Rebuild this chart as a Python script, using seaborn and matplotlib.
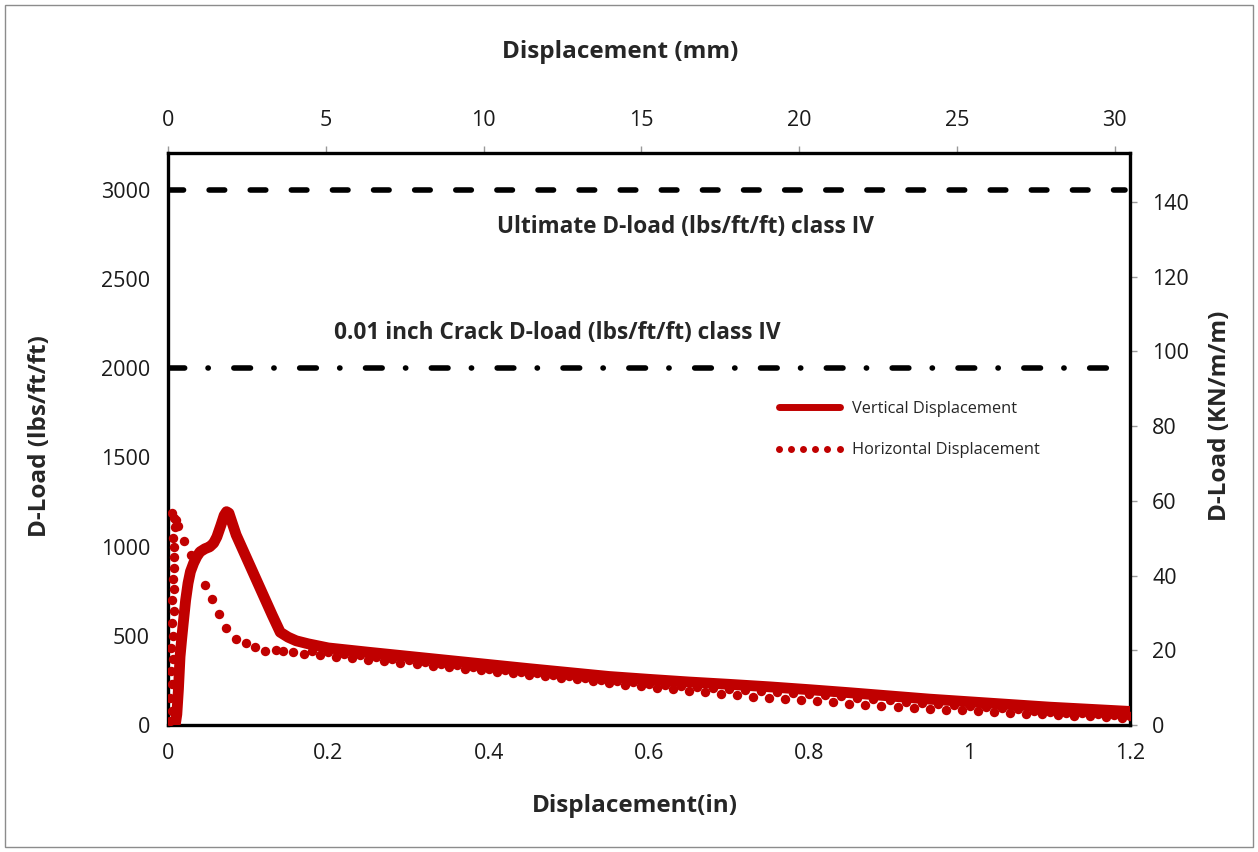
import matplotlib
matplotlib.use("Agg")
import matplotlib.pyplot as plt
from matplotlib.lines import Line2D
from matplotlib.patches import Rectangle
import seaborn as sns
import pandas as pd

# Vertical displacement test record (in, lbs/ft/ft)
vert_x = [0.009, 0.011, 0.013, 0.015, 0.017, 0.019, 0.022, 0.025, 0.028, 0.032,
          0.036, 0.040, 0.046, 0.052, 0.057, 0.061, 0.066, 0.070, 0.073, 0.076,
          0.085, 0.100, 0.115, 0.130, 0.140, 0.150, 0.160, 0.175, 0.200, 0.250,
          0.300, 0.350, 0.400, 0.450, 0.500, 0.550, 0.600, 0.650, 0.700, 0.750,
          0.800, 0.850, 0.900, 0.950, 1.000, 1.050, 1.100, 1.150, 1.200]
vert_load = [0, 60, 200, 383, 480, 570, 700, 795, 860, 908,
             945, 971, 988, 999, 1020, 1055, 1120, 1175, 1196, 1188,
             1066, 916, 766, 616, 520, 492, 472, 455, 432, 408,
             385, 362, 339, 316, 294, 272, 256, 241, 228, 214,
             198, 181, 163, 145, 130, 115, 100, 88, 76]

# Horizontal displacement test record (in, lbs/ft/ft)
horiz_x = [0.003, 0.005, 0.003, 0.005, 0.004, 0.006, 0.004, 0.006, 0.005, 0.007,
           0.005, 0.007, 0.006, 0.008, 0.007, 0.008, 0.006, 0.009, 0.007, 0.005,
           0.010, 0.013, 0.020, 0.029, 0.046, 0.055, 0.064, 0.072, 0.085, 0.097,
           0.109, 0.121, 0.135, 0.144, 0.156,
           0.17, 0.18, 0.19, 0.20, 0.21, 0.22, 0.23, 0.24, 0.25, 0.26,
           0.27, 0.28, 0.29, 0.30, 0.31, 0.32, 0.33, 0.34, 0.35, 0.36,
           0.37, 0.38, 0.39, 0.40, 0.41, 0.42, 0.43, 0.44, 0.45, 0.46,
           0.47, 0.48, 0.49, 0.50, 0.51, 0.52, 0.53, 0.54, 0.55, 0.56,
           0.57, 0.58, 0.59, 0.60, 0.61, 0.62, 0.63, 0.64, 0.65, 0.66,
           0.67, 0.68, 0.69, 0.70, 0.71, 0.72, 0.73, 0.74, 0.75, 0.76,
           0.77, 0.78, 0.79, 0.80, 0.81, 0.82, 0.83, 0.84, 0.85, 0.86,
           0.87, 0.88, 0.89, 0.90, 0.91, 0.92, 0.93, 0.94, 0.95, 0.96,
           0.97, 0.98, 0.99, 1.00, 1.01, 1.02, 1.03, 1.04, 1.05, 1.06,
           1.07, 1.08, 1.09, 1.10, 1.11, 1.12, 1.13, 1.14, 1.15, 1.16,
           1.17, 1.18, 1.19, 1.20]
horiz_load = [20, 80, 150, 230, 300, 370, 430, 500, 570, 640,
              700, 760, 820, 880, 940, 1000, 1050, 1110, 1160, 1190,
              1150, 1115, 1033, 953, 785, 706, 622, 545, 482, 460,
              439, 417, 420, 416, 411,
              400, 415, 392, 408, 384, 398, 375, 390, 366, 380,
              358, 371, 349, 362, 341, 353, 332, 344, 324, 334,
              316, 325, 307, 316, 299, 307, 291, 298, 283, 289,
              275, 280, 266, 272, 258, 263, 246, 254, 235, 246,
              226, 239, 216, 232, 208, 226, 200, 220, 192, 214,
              184, 208, 176, 203, 168, 198, 159, 192, 150, 186,
              146, 180, 140, 173, 133, 166, 127, 160, 120, 152,
              114, 145, 107, 138, 101, 131, 96, 124, 90, 117,
              86, 111, 82, 105, 78, 99, 73, 93, 68, 87,
              64, 81, 60, 75, 56, 70, 52, 66, 48, 61,
              45, 57, 42, 52]

# Design D-load levels, class IV pipe
ultimate_dload = 3000
crack_dload = 2000

x_ticks = [0, 0.2, 0.4, 0.6, 0.8, 1, 1.2]
x_tick_labels = ["0", "0.2", "0.4", "0.6", "0.8", "1", "1.2"]
y_ticks = [0, 500, 1000, 1500, 2000, 2500, 3000]
mm_ticks = [0, 5, 10, 15, 20, 25, 30]
kn_ticks = [0, 20, 40, 60, 80, 100, 120, 140]

IN_TO_MM = 25.4
PSF_TO_KN = 0.04775

sns.set_theme(style="white")
plt.rcParams["font.family"] = ["Open Sans", "DejaVu Sans"]

RED = "#c00000"
W, H = 1258, 852
fig = plt.figure(figsize=(W / 100, H / 100), dpi=100)
ax = fig.add_axes([168 / W, 1 - 725 / H, (1130 - 168) / W, (725 - 153) / H])

vdf = pd.DataFrame({"x": vert_x, "load": vert_load})
hdf = pd.DataFrame({"x": horiz_x, "load": horiz_load})

sns.scatterplot(data=hdf, x="x", y="load", ax=ax, color=RED, s=46,
                linewidth=0, zorder=3, legend=False)
sns.lineplot(data=vdf, x="x", y="load", ax=ax, color=RED, linewidth=7.8,
             sort=False, estimator=None, zorder=4, legend=False,
             solid_capstyle="round", solid_joinstyle="round")

ax.axhline(ultimate_dload, xmin=0, xmax=0.995, color="black", linewidth=4,
           dashes=(2.8, 4.6), dash_capstyle="round", zorder=2)
ax.axhline(crack_dload, xmin=0, xmax=0.995, color="black", linewidth=4,
           dashes=(3.0, 4.2, 0.05, 4.6), dash_capstyle="round", zorder=2)

ax.text(0.646, ultimate_dload - 209, "Ultimate D-load (lbs/ft/ft) class IV",
        ha="center", va="center", fontsize=16.3, fontweight="bold")
ax.text(0.486, crack_dload + 197, "0.01 inch Crack D-load (lbs/ft/ft) class IV",
        ha="center", va="center", fontsize=16.3, fontweight="bold")

ax.set_xlim(0, 1.2)
ax.set_ylim(0, 3207)
ax.set_xticks(x_ticks)
ax.set_xticklabels(x_tick_labels)
ax.set_yticks(y_ticks)
ax.set_xlabel("")
ax.set_ylabel("")

for s in ax.spines.values():
    s.set_visible(True)
    s.set_color("black")
    s.set_linewidth(2.4)

tick_kw = dict(direction="out", length=5, width=1, color="#999999",
               labelsize=15.5, labelcolor="#1a1a1a")
ax.tick_params(axis="x", pad=8, **tick_kw)
ax.tick_params(axis="y", pad=8, **tick_kw)

top = ax.secondary_xaxis("top", functions=(lambda v: v * IN_TO_MM,
                                           lambda v: v / IN_TO_MM))
top.set_xticks(mm_ticks)
top.tick_params(axis="x", pad=11, **tick_kw)
right = ax.secondary_yaxis("right", functions=(lambda v: v * PSF_TO_KN,
                                               lambda v: v / PSF_TO_KN))
right.set_yticks(kn_ticks)
right.tick_params(axis="y", pad=11, **tick_kw)
for sec in (top, right):
    for s in sec.spines.values():
        s.set_visible(False)

# Axis titles
fig.text(620 / W, 1 - 52 / H, "Displacement (mm)", ha="center", va="center",
         fontsize=17.5, fontweight="bold")
fig.text(635 / W, 1 - 806 / H, "Displacement(in)", ha="center", va="center",
         fontsize=17.5, fontweight="bold")
fig.text(40 / W, 1 - 436 / H, "D-Load (lbs/ft/ft)", ha="center", va="center",
         rotation=90, fontsize=17.5, fontweight="bold")
fig.text(1220 / W, 1 - 416 / H, "D-Load (KN/m/m)", ha="center", va="center",
         rotation=90, fontsize=17.5, fontweight="bold")

handles = [
    Line2D([], [], color=RED, linewidth=5, solid_capstyle="round"),
    Line2D([], [], color=RED, linestyle="none", marker="o", markersize=5,
           markeredgewidth=0),
]
ax.legend(handles, ["Vertical Displacement", "Horizontal Displacement"],
          loc="upper left", bbox_to_anchor=((774 - 168) / (1130 - 168),
                                            (725 - 401) / (725 - 153)),
          frameon=False, fontsize=11.8, handlelength=4.3, handletextpad=0.45,
          labelspacing=1.55, numpoints=6, borderpad=0, borderaxespad=0)

fig.patches.append(Rectangle((5 / W, 5 / H), 1 - 10 / W, 1 - 10 / H,
                             transform=fig.transFigure, fill=False,
                             edgecolor="#8c8c8c", linewidth=1))

fig.savefig("out.png", dpi=100)
